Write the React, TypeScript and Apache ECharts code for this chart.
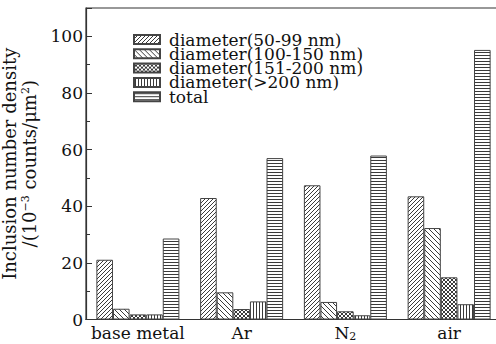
import React, { useEffect, useRef } from 'react';
import * as echarts from 'echarts';

const categories = ['base metal', 'Ar', 'N2', 'air'];
const seriesNames = ['diameter(50-99 nm)', 'diameter(100-150 nm)', 'diameter(151-200 nm)', 'diameter(>200 nm)', 'total'];
const d50to99 = [21.1, 42.9, 47.4, 43.5];
const d100to150 = [3.8, 9.6, 6.2, 32.3];
const d151to200 = [1.8, 3.7, 2.9, 14.9];
const dOver200 = [1.8, 6.4, 1.5, 5.4];
const total = [28.6, 57.0, 57.9, 95.2];
const yMax = 110;
const yStep = 20;

const FONT = 'DejaVu Serif';

function makePattern(kind: string) {
  const s = kind === 'back' ? 5 : kind === 'fwd' ? 4 : kind === 'cross' ? 4 : 3;
  const c = document.createElement('canvas');
  c.width = s;
  c.height = s;
  const g = c.getContext('2d')!;
  g.fillStyle = '#fff';
  g.fillRect(0, 0, s, s);
  g.strokeStyle = '#3a3a3a';
  g.lineWidth = 1;
  g.beginPath();
  if (kind === 'fwd' || kind === 'cross') {
    g.moveTo(-1, s + 1); g.lineTo(s + 1, -1);
    g.moveTo(-1, 1); g.lineTo(1, -1);
    g.moveTo(s - 1, s + 1); g.lineTo(s + 1, s - 1);
  }
  if (kind === 'back' || kind === 'cross') {
    g.moveTo(-1, -1); g.lineTo(s + 1, s + 1);
    g.moveTo(s - 1, -1); g.lineTo(s + 1, 1);
    g.moveTo(-1, s - 1); g.lineTo(1, s + 1);
  }
  if (kind === 'vert') { g.moveTo(1.5, 0); g.lineTo(1.5, s); }
  if (kind === 'horiz') { g.moveTo(0, 1.5); g.lineTo(s, 1.5); }
  g.stroke();
  return { image: c, repeat: 'repeat' };
}

export default function App() {
  const ref = useRef<HTMLDivElement>(null);
  useEffect(() => {
    const chart = echarts.init(ref.current!, null, { renderer: 'svg' });
    const kinds = ['fwd', 'back', 'cross', 'vert', 'horiz'];
    const values = [d50to99, d100to150, d151to200, dOver200, total];
    const series = seriesNames.map((name, i) => ({
      name,
      type: 'bar',
      data: values[i],
      barGap: '0%',
      barCategoryGap: '20%',
      itemStyle: { color: makePattern(kinds[i]) as any, borderColor: '#444', borderWidth: 1 },
      emphasis: { disabled: true },
    }));
    chart.setOption({
      animation: false,
      grid: {
        left: 86, right: -5, top: 8, bottom: 24.5,
        show: true, borderColor: '#333', borderWidth: 1.2,
        containLabel: false,
        outerBoundsMode: 'none',
      },
      legend: {
        data: seriesNames,
        orient: 'vertical',
        left: 133,
        top: 31,
        padding: 0,
        icon: 'rect',
        itemWidth: 26,
        itemHeight: 9,
        itemGap: -2.7,
        textStyle: { fontFamily: FONT, fontSize: 17, color: '#111', padding: [0, 0, 0, 4] },
      },
      xAxis: {
        type: 'category',
        data: categories,
        axisLine: { lineStyle: { color: '#333', width: 1.2 } },
        axisTick: { show: false },
        axisLabel: {
          interval: 0,
          fontFamily: FONT,
          fontSize: 17,
          color: '#111',
          margin: 5,
          formatter: (v: string) => (v === 'N2' ? '{n|N}{sub|2}' : v),
          rich: {
            n: { fontFamily: FONT, fontSize: 17, lineHeight: 17, color: '#111' },
            sub: { fontFamily: FONT, fontSize: 11, lineHeight: 2, verticalAlign: 'bottom', color: '#111' },
          },
        },
      },
      yAxis: [
        {
          type: 'value',
          min: 0,
          max: yMax,
          interval: yStep,
          position: 'left',
          name: 'Inclusion number density\n/(10{sup|−3} counts/μm{sup|2})',
          nameLocation: 'middle',
          nameRotate: 90,
          nameGap: 42,
          nameTextStyle: {
            fontFamily: FONT,
            fontSize: 18,
            lineHeight: 20,
            color: '#111',
            rich: {
              sup: { fontFamily: FONT, fontSize: 11, lineHeight: 9, verticalAlign: 'top', color: '#111' },
            },
          },
          axisLine: { show: true, lineStyle: { color: '#333', width: 1.2 } },
          axisTick: { show: true, inside: true, length: 6, lineStyle: { color: '#333' } },
          axisLabel: {
            fontFamily: FONT,
            fontSize: 17,
            color: '#111',
            margin: 3,
            formatter: (v: number) => (v > 100 ? '' : String(v)),
          },
          splitLine: { show: false },
        },
        {
          type: 'value',
          min: 0,
          max: yMax,
          interval: 10,
          position: 'left',
          axisLine: { show: false },
          axisTick: { show: true, inside: true, length: 4, lineStyle: { color: '#333' } },
          axisLabel: { show: false },
          splitLine: { show: false },
        },
      ],
      series,
    });
    return () => chart.dispose();
  }, []);
  return <div ref={ref} style={{ width: 496, height: 344, position: 'absolute', left: 0, top: 0, background: '#fff' }} />;
}
